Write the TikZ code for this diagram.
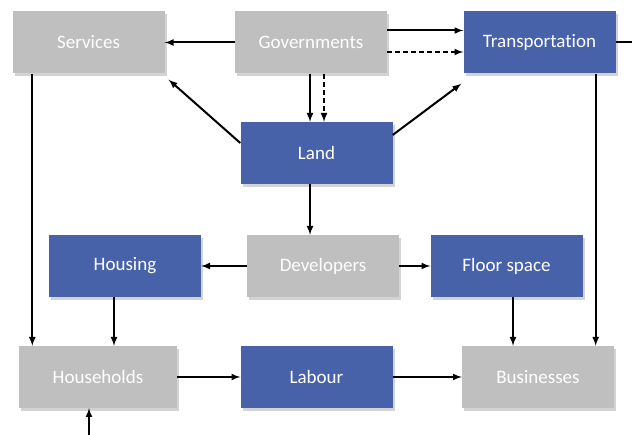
\documentclass[tikz,border=0pt]{standalone}
\usepackage{fontspec}
\setmainfont{Carlito}[Ligatures={NoCommon}]
\usetikzlibrary{shapes, arrows, positioning, shadows}
\definecolor{boxblue}{RGB}{71,98,168}
\definecolor{boxgray}{RGB}{191,191,191}
\tikzstyle{agent} = [fill=boxgray, text=white, rectangle, minimum width=152pt, minimum height=62pt, inner sep=0pt, font=\fontsize{19}{22}\selectfont, drop shadow={shadow xshift=2pt, shadow yshift=-3pt, opacity=0.35}]
\tikzstyle{market} = [agent, fill=boxblue]
\tikzstyle{flow} = [->, >=latex, line width=2pt]
\tikzstyle{flowdash} = [flow, dashed, dash pattern=on 5pt off 3pt]
\begin{document}
\begin{tikzpicture}[x=1pt, y=-1pt]
	\useasboundingbox (0,0) rectangle (632,435);
	% upper row
	\node [agent] (serv) at (88.5,42.5) {Services};
	\node [agent] (gov) at (311,42.5) {Governments};
	\node [market] (trans) at (539.5,42.5) {Transportation};
	\node [market] (land) at (316.5,153) {Land};
	% middle row
	\node [market] (hous) at (125,266) {Housing};
	\node [agent] (dev) at (323,266) {Developers};
	\node [market] (floor) at (506.5,266) {Floor space};
	% lower row
	\node [agent, minimum width=158pt] (hh) at (98,377) {Households};
	\node [market] (lab) at (316.5,377) {Labour};
	\node [agent] (bus) at (538,377) {Businesses};
	\coordinate (out) at (632,42.5);
	\coordinate (in) at (89,435);

	\draw [flow] (gov) -- (serv);
	\draw [flow] ([yshift=12pt]gov.east) -- ([yshift=12pt]trans.west);
	\draw [flowdash] ([yshift=-9.5pt]gov.east) -- ([yshift=-9.5pt]trans.west);
	\draw [flow] ([xshift=-1pt]gov.south) -- ([xshift=-1pt]gov.south |- land.north);
	\draw [flowdash] ([xshift=13pt]gov.south) -- ([xshift=13pt]gov.south |- land.north);
	\draw [flow] ([yshift=10pt]land.west) -- ([xshift=4pt,yshift=-6pt]serv.south east);
	\draw [flow] ([yshift=18pt]land.east) -- ([xshift=-2pt,yshift=-10pt]trans.south west);
	\draw [flow] ([xshift=-6.5pt]land.south) -- ([xshift=-6.5pt]land.south |- dev.north);
	\draw [flow] ([xshift=20pt]serv.south west) -- ([xshift=20pt]serv.south west |- hh.north);
	\draw [flow] ([xshift=-20pt]trans.south east) -- ([xshift=-20pt]trans.south east |- bus.north);
	\draw [line width=2pt] (trans.east) -- (out);
	\draw [flow] (dev) -- (hous);
	\draw [flow] (dev) -- (floor);
	\draw [flow] ([xshift=-11pt]hous.south) -- ([xshift=-11pt]hous.south |- hh.north);
	\draw [flow] ([xshift=6.5pt]floor.south) -- ([xshift=6.5pt]floor.south |- bus.north);
	\draw [flow] (hh) -- (lab);
	\draw [flow] (lab) -- (bus);
	\draw [flow] (in) -- (in |- hh.south);
\end{tikzpicture}
\end{document}
